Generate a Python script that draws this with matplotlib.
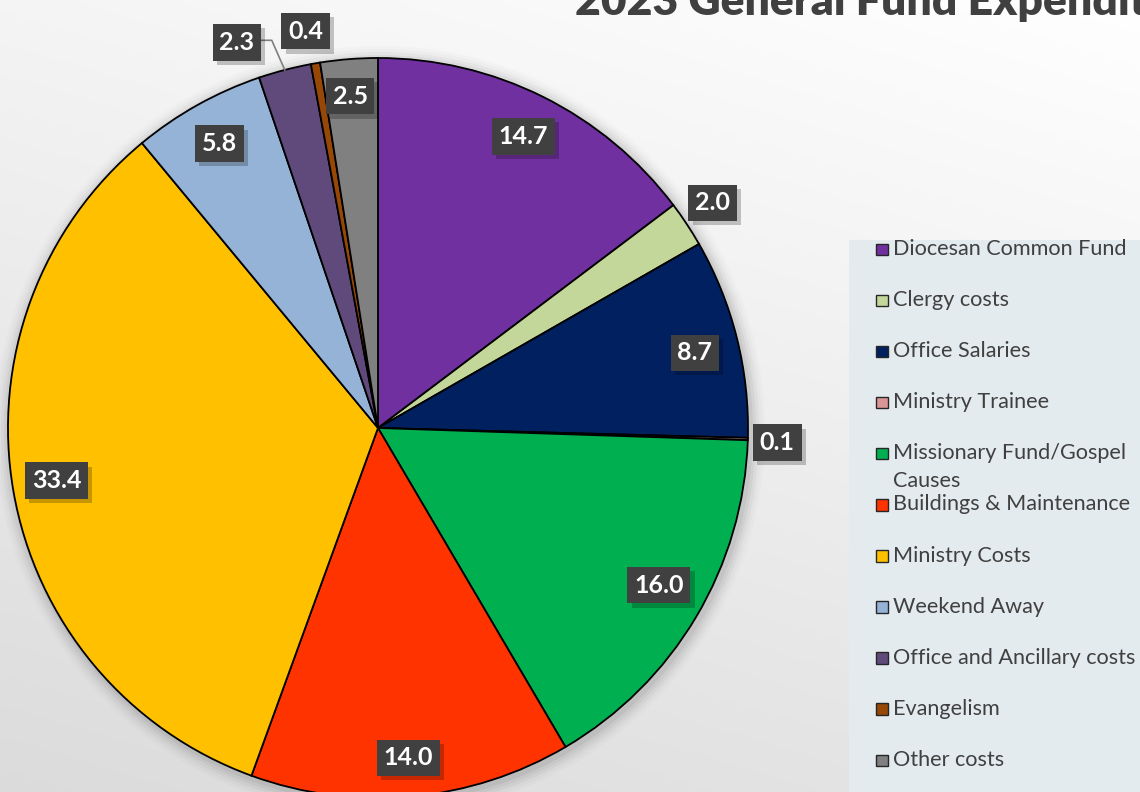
import numpy as np
import matplotlib
matplotlib.use("Agg")
import matplotlib.pyplot as plt
from matplotlib.patches import Rectangle
from matplotlib import patheffects as pe

# ---- data ----
categories = ["Diocesan Common Fund", "Clergy costs", "Office Salaries", "Ministry Trainee",
              "Missionary Fund/Gospel Causes", "Buildings & Maintenance", "Ministry Costs",
              "Weekend Away", "Office and Ancillary costs", "Evangelism", "Other costs"]
values = [14.7, 2.0, 8.7, 0.1, 16.0, 14.0, 33.4, 5.8, 2.3, 0.4, 2.5]
value_labels = ["14.7", "2.0", "8.7", "0.1", "16.0", "14.0", "33.4", "5.8", "2.3", "0.4", "2.5"]
legend_labels = ["Diocesan Common Fund", "Clergy costs", "Office Salaries", "Ministry Trainee",
                 "Missionary Fund/Gospel", "Buildings & Maintenance", "Ministry Costs",
                 "Weekend Away", "Office and Ancillary costs", "Evangelism", "Other costs"]
title = "2023 General Fund Expenditure"

colors = ["#7030A0", "#C4D79B", "#002060", "#DA9694", "#00B050", "#FF3300",
          "#FFC000", "#95B3D7", "#604A7B", "#974706", "#808080"]
# label placement style (radius factor, angle offset in degrees)
label_r = [0.88, 1.09, 0.88, 1.08, 0.87, 0.895, 0.88, 0.88, 1.11, 1.09, 0.90]
label_dang = [0, 0.5, -0.8, -0.4, 1.5, 0, -0.5, 0, 5.5, 0.6, 0.3]

W, H = 1140, 792
fig = plt.figure(figsize=(W / 100, H / 100), dpi=100)

# background gradient
bg = fig.add_axes([0, 0, 1, 1])
bg.set_axis_off()
xx, yy = np.meshgrid(np.linspace(0, 1, 300), np.linspace(0, 1, 220))
t = 0.3 * (1 - xx) + 0.7 * yy  # yy: 0 top, 1 bottom
grad = 1 - 0.14 * t
bg.imshow(np.dstack([grad, grad, grad]), extent=[0, 1, 0, 1], aspect='auto', origin='upper')
bg.set_xlim(0, 1)
bg.set_ylim(0, 1)

ax = fig.add_axes([0, 0, 1, 1])
ax.set_axis_off()
ax.patch.set_alpha(0)

cx, cy, R = 378, H - 428, 370

# soft shadow behind pie
for k, a in enumerate([0.05, 0.04, 0.03, 0.02, 0.015]):
    circ = plt.Circle((cx + 2, cy - 3), R + 3 + 3 * k, color="#000000", alpha=a, lw=0, zorder=0.5)
    ax.add_patch(circ)

wedges, _ = ax.pie(values, colors=colors, startangle=90, counterclock=False,
                   center=(cx, cy), radius=R,
                   wedgeprops=dict(edgecolor="black", linewidth=1.3))
for w in wedges:
    w.set_zorder(1)

ax.set_xlim(0, W)
ax.set_ylim(0, H)
ax.set_aspect('equal')

# data labels
for i, w in enumerate(wedges):
    mid = np.deg2rad((w.theta1 + w.theta2) / 2 + label_dang[i])
    lx = cx + label_r[i] * R * np.cos(mid)
    ly = cy + label_r[i] * R * np.sin(mid)
    txt = ax.text(lx, ly, value_labels[i], ha='center', va='center', color='white',
                  fontsize=18, fontweight='bold', family='Lato', zorder=5,
                  bbox=dict(boxstyle='square,pad=0.27', fc='#404040', ec='none', lw=0))
    txt.get_bbox_patch().set_path_effects(
        [pe.SimplePatchShadow(offset=(3, -3), shadow_rgbFace='black', alpha=0.22), pe.Normal()])
    if value_labels[i] == "2.3":
        m0 = np.deg2rad((w.theta1 + w.theta2) / 2)
        ex, ey = cx + R * np.cos(m0), cy + R * np.sin(m0)
        ax.plot([ex, ex - 13, lx + 24], [ey, ly + 2, ly + 2], color='#7f7f7f', lw=1.2, zorder=4)

# legend panel
px0, py_top = 849, 240
ax.add_patch(Rectangle((px0, 0), W - px0, H - py_top, fc='#e4ebee', ec='none', zorder=2))
spacing = 51.1
for i, lab in enumerate(legend_labels):
    yc = H - (249 + i * spacing)
    ax.add_patch(Rectangle((876, yc - 6), 11.5, 11.5, fc=colors[i], ec='#262626', lw=1.0, zorder=3))
    ax.text(893, yc, lab, ha='left', va='center', fontsize=15.6, family='Lato',
            color='#404040', zorder=3)
    if lab == "Missionary Fund/Gospel":
        ax.text(893, yc - 28, "Causes", ha='left', va='center', fontsize=15.6, family='Lato',
                color='#404040', zorder=3)

# title (partly cut off at the top, as in the reference)
fig.text(575 / W, (H - 15) / H, title, ha='left', va='baseline', fontsize=32,
         fontweight='heavy', family='Lato', color='#404040')

fig.savefig("out.png", dpi=100)
